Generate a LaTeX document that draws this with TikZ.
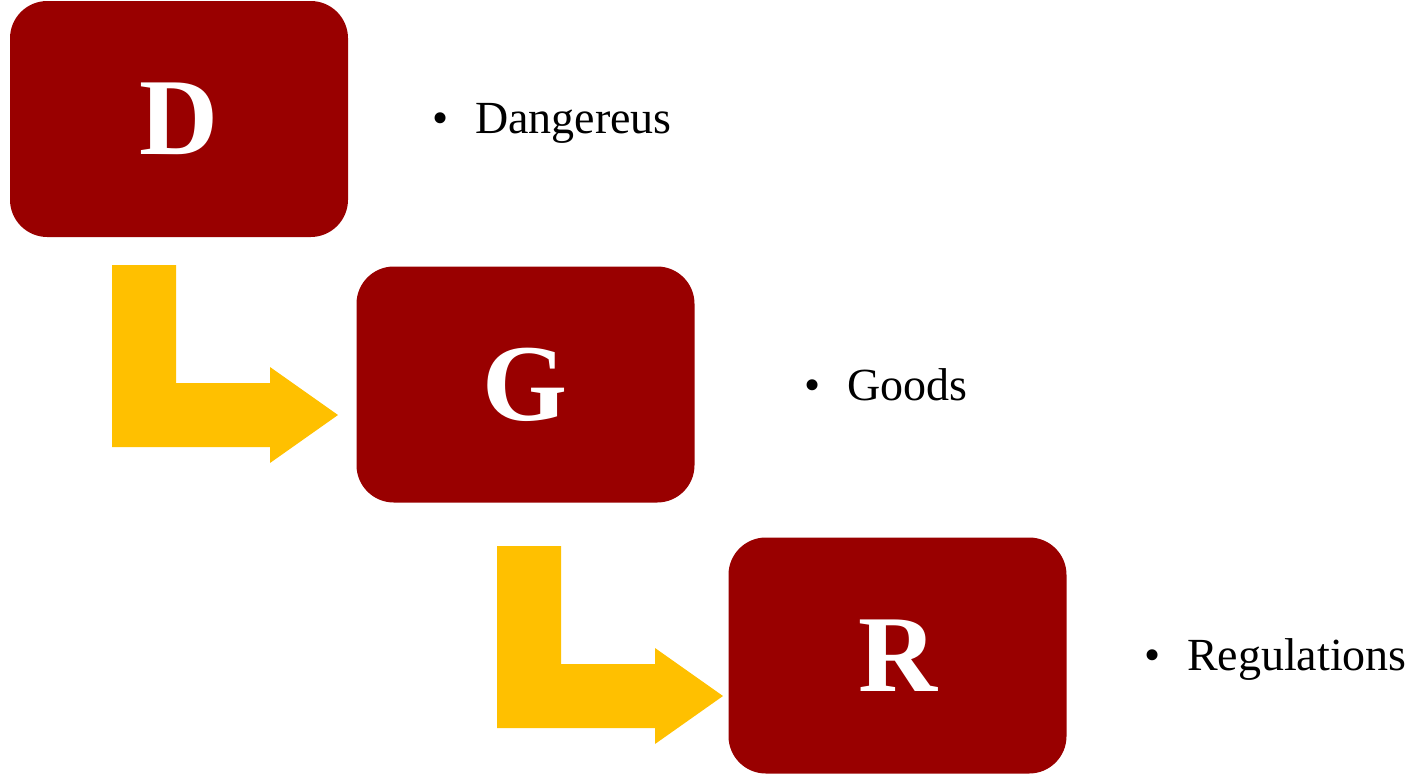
\documentclass[tikz,border=0pt]{standalone}
\usepackage{fontspec}
\setmainfont{Liberation Serif}
\usepackage{tikz}
\usetikzlibrary{positioning}
\definecolor{boxred}{RGB}{153,0,0}
\definecolor{arrowgold}{RGB}{255,192,0}
\newcommand{\bentarrow}[1]{%
  \fill[arrowgold, shift={#1}] (0,0) -- (64,0) -- (64,118) -- (158,118) -- (158,102) -- (226,150) -- (158,198) -- (158,182) -- (0,182) -- cycle;}

\begin{document}
\begin{tikzpicture}[x=0.75pt,y=0.75pt,yscale=-1,xscale=1,
  letterbox/.style={fill=boxred, rounded corners=28pt, minimum width=253.5pt, minimum height=177pt, inner sep=0pt, text=white, font=\fontsize{82}{90}\selectfont\bfseries},
  bulletitem/.style={anchor=base west, inner sep=0pt, font=\fontsize{34.5}{40}\selectfont}
]
  \useasboundingbox (0,0) rectangle (1416,775); %set diagram left start at 0, and has height of 775

  % Bent Arrow
  \bentarrow{(112,265)}
  % Bent Arrow
  \bentarrow{(497,546)}

  % Rounded Rect
  \node [letterbox] (D) at (179,119) {D};
  % Rounded Rect
  \node [letterbox] (G) at (525.5,384.5) {G};
  % Rounded Rect
  \node [letterbox] (R) at (897.5,655.5) {R};

  % Text Node
  \node [bulletitem] (dangereus) at (432,133) {\textbullet\hspace{20pt}Dangereus};
  % Text Node
  \node [bulletitem] (goods) at (804,400) {\textbullet\hspace{20pt}Goods};
  % Text Node
  \node [bulletitem] (regulations) at (1144,670) {\textbullet\hspace{20pt}Regulations};

\end{tikzpicture}
\end{document}
